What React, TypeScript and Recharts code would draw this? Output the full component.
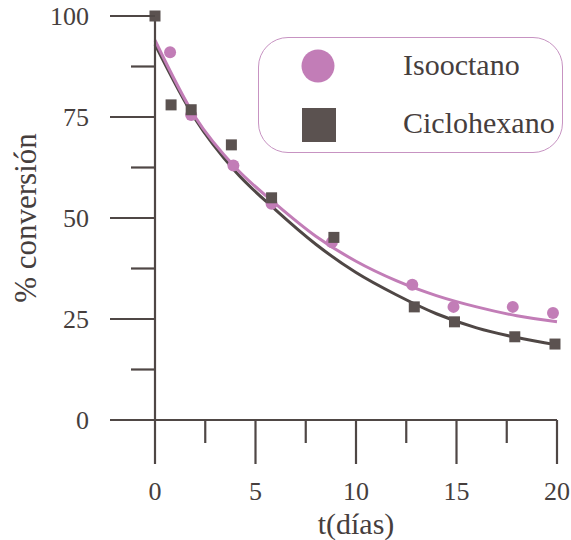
import { ComposedChart, Line, Scatter, XAxis, YAxis, Legend } from "recharts";

// puntos experimentales
const diasIso = [0.75, 1.8, 3.9, 5.8, 8.8, 12.8, 14.85, 17.8, 19.8];
const isooctano = [91, 75.5, 63, 53.5, 44, 33.5, 28, 28, 26.5];

const diasCiclo = [0, 0.8, 1.8, 3.8, 5.8, 8.9, 12.9, 14.9, 17.9, 19.9];
const ciclohexano = [100, 78, 76.8, 68.1, 55, 45.2, 28, 24.3, 20.6, 18.8];

// curvas de ajuste
const tAjuste = [0, 2, 4, 6, 8, 10, 12, 14, 16, 18, 20];
const ajusteIso = [94, 75, 62.5, 53.5, 45.5, 39.3, 34.5, 30.8, 28, 25.8, 24.3];
const ajusteCiclo = [93, 74.5, 61.5, 52, 43.5, 36.5, 31, 26.3, 22.8, 20.4, 18.6];

const xTicks = [0, 2.5, 5, 7.5, 10, 12.5, 15, 17.5, 20];
const yTicks = [0, 12.5, 25, 37.5, 50, 62.5, 75, 87.5, 100];

const ROSA = "#c27db7";
const GRIS = "#5b5250";
const EJE = "#4f4745";
const TEXTO = "#463e3d";
const FONT = "'Liberation Serif', 'DejaVu Serif', serif";

const isoData = diasIso.map((t, i) => ({ t, v: isooctano[i] }));
const cicloData = diasCiclo.map((t, i) => ({ t, v: ciclohexano[i] }));
const ajIsoData = tAjuste.map((t, i) => ({ t, v: ajusteIso[i] }));
const ajCicloData = tAjuste.map((t, i) => ({ t, v: ajusteCiclo[i] }));

function XTick({ x, y, payload }: any) {
  const major = payload.value % 5 === 0;
  return (
    <g>
      <line x1={x} x2={x} y1={y} y2={y + (major ? 44 : 23)} stroke={EJE} strokeWidth={2.2} />
      {major && (
        <text x={x} y={y + 80} textAnchor="middle" fontSize={26} fill={TEXTO} style={{ fontFamily: FONT }}>
          {payload.value}
        </text>
      )}
    </g>
  );
}

function YTick({ x, y, payload }: any) {
  const major = payload.value % 25 === 0;
  return (
    <g>
      <line x1={x - (major ? 45 : 24)} x2={x} y1={y} y2={y} stroke={EJE} strokeWidth={2.2} />
      {major && (
        <text x={x - 66} y={y + 9} textAnchor="end" fontSize={26} fill={TEXTO} style={{ fontFamily: FONT }}>
          {payload.value}
        </text>
      )}
    </g>
  );
}

const Circulo = (p: any) => <circle cx={p.cx} cy={p.cy} r={6} fill={ROSA} />;
const Cuadrado = (p: any) => <rect x={p.cx - 5.5} y={p.cy - 5.5} width={11} height={11} fill={GRIS} />;

function Leyenda() {
  return (
    <div
      style={{
        width: 305,
        height: 116,
        border: "1.5px solid #c793c2",
        borderRadius: 30,
        boxSizing: "border-box",
        position: "relative",
      }}
    >
      <svg width={305} height={116} style={{ position: "absolute", left: -1.5, top: -1.5, overflow: "visible" }}>
        <circle cx={60} cy={29} r={16.5} fill={ROSA} />
        <rect x={44} y={71} width={34} height={34} fill={GRIS} />
        <text x={145} y={38} fontSize={30} fill={TEXTO} style={{ fontFamily: FONT }}>Isooctano</text>
        <text x={145} y={96} fontSize={30} fill={TEXTO} style={{ fontFamily: FONT }}>Ciclohexano</text>
      </svg>
    </div>
  );
}

export default function App() {
  return (
    <>
      <style>{"body{margin:0}"}</style>
      <ComposedChart width={571} height={540} margin={{ top: 16, right: 14, bottom: 0, left: 0 }}>
        <XAxis
          type="number"
          dataKey="t"
          domain={[0, 20]}
          ticks={xTicks}
          height={120}
          tickSize={0}
          tickMargin={0}
          tickLine={false}
          axisLine={{ stroke: EJE, strokeWidth: 2.2 }}
          tick={<XTick />}
          interval={0}
          label={{ value: "t(días)", position: "insideBottom", offset: 6, fontSize: 30, fill: TEXTO, style: { fontFamily: FONT } }}
        />
        <YAxis
          type="number"
          dataKey="v"
          domain={[0, 100]}
          ticks={yTicks}
          width={155}
          tickSize={0}
          tickMargin={0}
          tickLine={false}
          axisLine={{ stroke: EJE, strokeWidth: 2.2 }}
          tick={<YTick />}
          interval={0}
          label={{ value: "% conversión", angle: -90, position: "insideLeft", offset: 25, fontSize: 31, fill: TEXTO, style: { textAnchor: "middle", fontFamily: FONT } }}
        />
        <Line data={ajCicloData} dataKey="v" type="monotone" stroke={EJE} strokeWidth={3} dot={false} isAnimationActive={false} />
        <Line data={ajIsoData} dataKey="v" type="monotone" stroke={ROSA} strokeWidth={3} dot={false} isAnimationActive={false} />
        <Scatter data={isoData} dataKey="v" shape={Circulo} isAnimationActive={false} />
        <Scatter data={cicloData} dataKey="v" shape={Cuadrado} isAnimationActive={false} />
        <Legend
          layout="vertical"
          align="center"
          verticalAlign="middle"
          content={<Leyenda />}
          wrapperStyle={{ left: 258, top: 37, width: 305, height: 116 }}
        />
      </ComposedChart>
    </>
  );
}
